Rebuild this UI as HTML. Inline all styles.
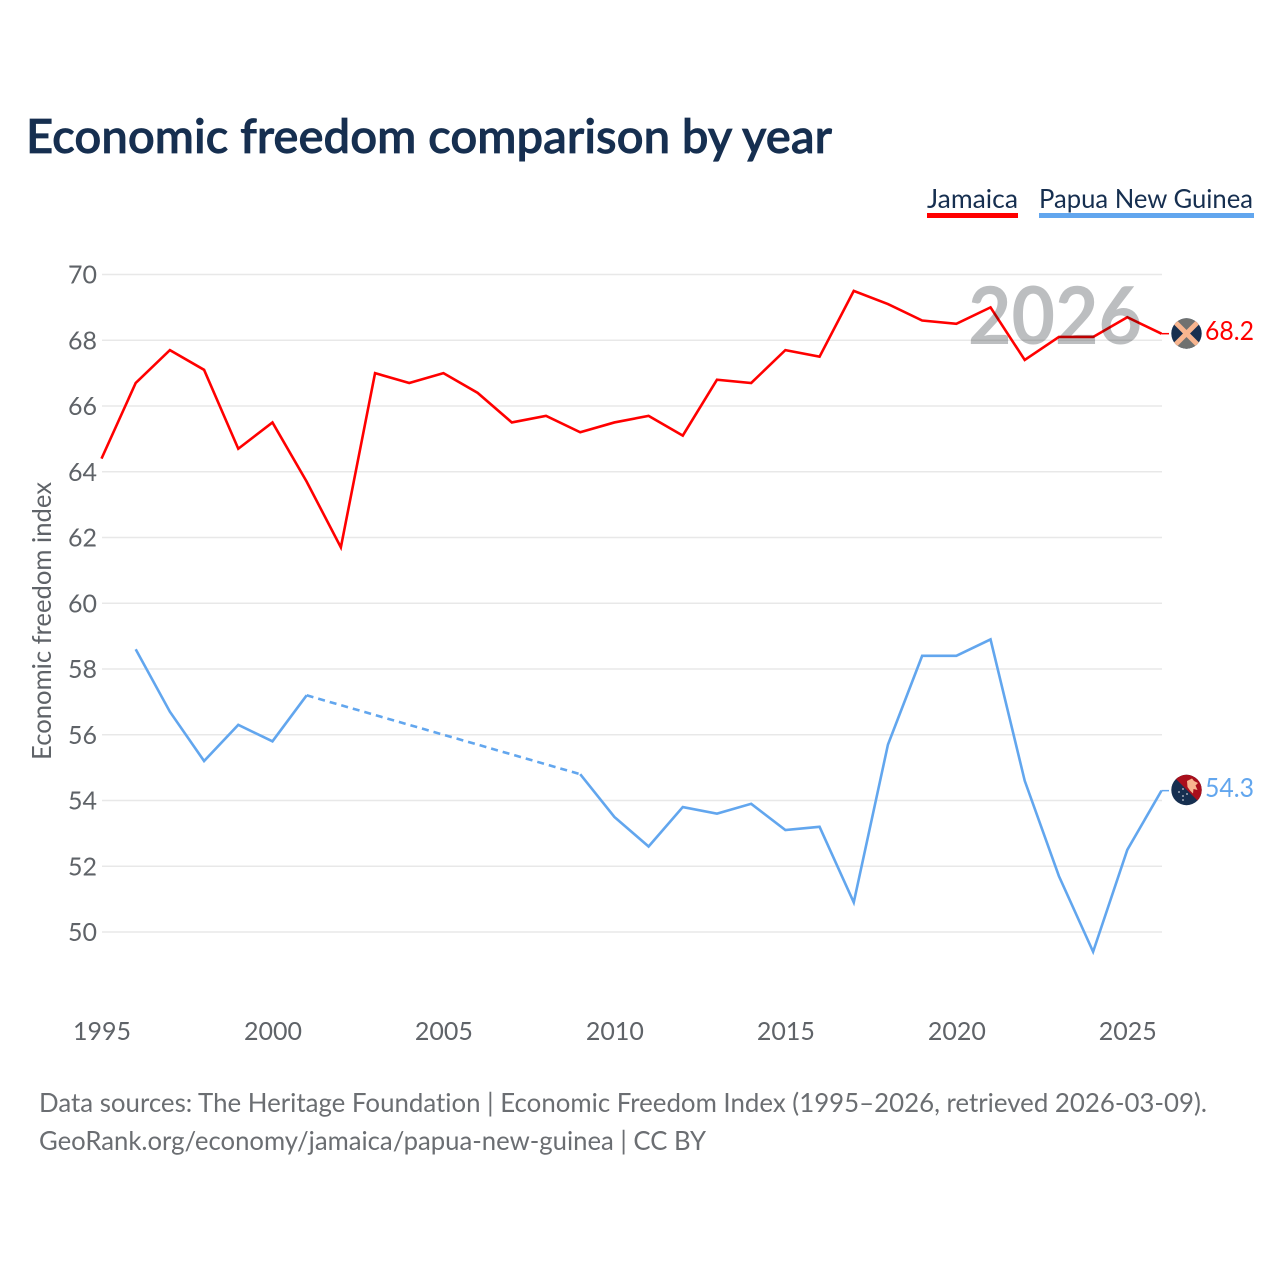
<!DOCTYPE html>
<html lang="en">
<head>
<meta charset="utf-8">
<title>Economic freedom comparison by year</title>
<style>
  html, body { margin: 0; padding: 0; background: #fff; }
  svg { display: block; }
  text { font-family: "Lato", "Liberation Sans", sans-serif; font-variant-ligatures: none; }
</style>
</head>
<body>
<svg id="chart" xmlns="http://www.w3.org/2000/svg" width="1280" height="1280" viewBox="0 0 1280 1280">
  <defs>
    <clipPath id="flag-clip-jm"><circle cx="1186.5" cy="333.5" r="15.2"/></clipPath>
    <clipPath id="flag-clip-pg"><circle cx="1186.5" cy="790" r="15.2"/></clipPath>
  </defs>
  <rect width="1280" height="1280" fill="#ffffff"/>
  <text x="26" y="153" font-size="47" font-weight="600" fill="#162f50" stroke="#162f50" stroke-width="0.7" textLength="806" lengthAdjust="spacingAndGlyphs">Economic freedom comparison by year</text>

  <g>
    <text x="927" y="208" font-size="26" fill="#162f50" textLength="91" lengthAdjust="spacingAndGlyphs">Jamaica</text>
    <rect x="927" y="213" width="91" height="5" fill="#ff0000"/>
  </g>
  <g>
    <text x="1039" y="208" font-size="26" fill="#162f50" textLength="214" lengthAdjust="spacingAndGlyphs">Papua New Guinea</text>
    <rect x="1039" y="213" width="215" height="5" fill="#62a6ee"/>
  </g>

  <g id="grid"></g>
  <g id="yticks"></g>
  <g id="xticks"></g>
  <text transform="translate(51,760) rotate(-90)" font-size="26" fill="#5f6368" textLength="278" lengthAdjust="spacingAndGlyphs">Economic freedom index</text>

  <g id="series"></g>

  <text x="968" y="344" font-size="80" font-weight="700" fill="#bcbec0" textLength="174" lengthAdjust="spacingAndGlyphs" style="mix-blend-mode:multiply">2026</text>

  <g clip-path="url(#flag-clip-jm)">
    <rect x="1171" y="318" width="31" height="31" fill="#162f50"/>
    <polygon points="1171,318 1202,318 1186.5,333.5" fill="#6f7170"/>
    <polygon points="1171,349 1202,349 1186.5,333.5" fill="#6f7170"/>
    <line x1="1171" y1="318" x2="1202" y2="349" stroke="#f7b58f" stroke-width="5"/>
    <line x1="1202" y1="318" x2="1171" y2="349" stroke="#f7b58f" stroke-width="5"/>
  </g>
  <g clip-path="url(#flag-clip-pg)">
    <rect x="1171" y="774" width="32" height="32" fill="#162f50"/>
    <polygon points="1171,774 1203,774 1203,806" fill="#a90f1c"/>
    <polygon points="1187,781 1192,778.5 1194,781 1198,783 1195.5,785.5 1197.5,790 1193.5,789 1193,793.5 1190,790.5 1187.5,787" fill="#f7b58f"/>
    <circle cx="1179" cy="792" r="0.9" fill="#c9ced6"/>
    <circle cx="1183" cy="789" r="0.9" fill="#c9ced6"/>
    <circle cx="1183" cy="796" r="0.9" fill="#c9ced6"/>
    <circle cx="1187" cy="794" r="0.9" fill="#c9ced6"/>
    <circle cx="1183" cy="800" r="0.9" fill="#c9ced6"/>
  </g>

  <text x="1205" y="340" font-size="26" fill="#ff0000" textLength="49" lengthAdjust="spacingAndGlyphs">68.2</text>
  <text x="1205" y="797" font-size="26" fill="#62a6ee" textLength="49" lengthAdjust="spacingAndGlyphs">54.3</text>

  <text x="39" y="1112" font-size="26" fill="#6b6e72" textLength="1168" lengthAdjust="spacingAndGlyphs">Data sources: The Heritage Foundation | Economic Freedom Index (1995–2026, retrieved 2026-03-09).</text>
  <text x="39" y="1150" font-size="26" fill="#6b6e72" textLength="667" lengthAdjust="spacingAndGlyphs">GeoRank.org/economy/jamaica/papua-new-guinea | CC BY</text>
</svg>
<script>
const years = [1995,1996,1997,1998,1999,2000,2001,2002,2003,2004,2005,2006,2007,2008,2009,2010,2011,2012,2013,2014,2015,2016,2017,2018,2019,2020,2021,2022,2023,2024,2025,2026];
const jamaicaValues = [64.4,66.7,67.7,67.1,64.7,65.5,63.7,61.7,67.0,66.7,67.0,66.4,65.5,65.7,65.2,65.5,65.7,65.1,66.8,66.7,67.7,67.5,69.5,69.1,68.6,68.5,69.0,67.4,68.1,68.1,68.7,68.2];
const papuaValues = [null,58.6,56.7,55.2,56.3,55.8,57.2,null,null,null,null,null,null,null,54.8,53.5,52.6,53.8,53.6,53.9,53.1,53.2,50.9,55.7,58.4,58.4,58.9,54.6,51.7,49.4,52.5,54.3];
const yTickLabels = [50,52,54,56,58,60,62,64,66,68,70];
const xTickLabels = [1995,2000,2005,2010,2015,2020,2025];

const NS = 'http://www.w3.org/2000/svg';
function xScale(year) { return 101.5 + (year - 1995) * (1161.5 - 101.5) / (2026 - 1995); }
function yScale(v) { return 932 - (v - 50) * (932 - 274.5) / (70 - 50); }

const grid = document.getElementById('grid');
const yticks = document.getElementById('yticks');
const xticks = document.getElementById('xticks');
const series = document.getElementById('series');

yTickLabels.forEach(function (t) {
  const line = document.createElementNS(NS, 'line');
  
  
  line.setAttribute('x1', 102);
  line.setAttribute('x2', 1162);
  line.setAttribute('y1', yScale(t));
  line.setAttribute('y2', yScale(t));
  line.setAttribute('stroke', '#e8e8e8');
  line.setAttribute('stroke-width', '1.5');
  grid.appendChild(line);

  const label = document.createElementNS(NS, 'text');
  
  
  label.setAttribute('x', 97);
  label.setAttribute('y', yScale(t) + 9);
  label.setAttribute('text-anchor', 'end');
  label.setAttribute('font-size', '25');
  label.setAttribute('fill', '#5f6368');
  label.textContent = t;
  yticks.appendChild(label);
});

xTickLabels.forEach(function (t) {
  const label = document.createElementNS(NS, 'text');
  
  
  label.setAttribute('x', xScale(t) + 0.5);
  label.setAttribute('y', 1040);
  label.setAttribute('text-anchor', 'middle');
  label.setAttribute('font-size', '25');
  label.setAttribute('fill', '#5f6368');
  label.textContent = t;
  xticks.appendChild(label);
});

function toPoints(pairs) {
  return pairs.map(function (p) { return xScale(p[0]).toFixed(2) + ',' + yScale(p[1]).toFixed(2); }).join(' ');
}

function drawSeries(values, color, name) {
  let run = [];
  let previous = null;
  const solidRuns = [];
  const dashedRuns = [];
  values.forEach(function (v, i) {
    if (v === null) {
      if (run.length) { solidRuns.push(run); previous = run[run.length - 1]; run = []; }
      return;
    }
    const pair = [years[i], v];
    if (!run.length && previous) { dashedRuns.push([previous, pair]); }
    run.push(pair);
  });
  if (run.length) { solidRuns.push(run); }

  solidRuns.forEach(function (r) {
    const line = document.createElementNS(NS, 'polyline');
    
    
    line.setAttribute('points', toPoints(r));
    line.setAttribute('fill', 'none');
    line.setAttribute('stroke', color);
    line.setAttribute('stroke-width', '2.6');
    series.appendChild(line);
  });
  dashedRuns.forEach(function (r) {
    const line = document.createElementNS(NS, 'polyline');
    
    
    line.setAttribute('points', toPoints(r));
    line.setAttribute('fill', 'none');
    line.setAttribute('stroke', color);
    line.setAttribute('stroke-width', '2.6');
    line.setAttribute('stroke-dasharray', '7 5');
    series.appendChild(line);
  });

  const last = values[values.length - 1];
  const connector = document.createElementNS(NS, 'line');
  
  
  connector.setAttribute('x1', xScale(years[years.length - 1]));
  connector.setAttribute('x2', 1169);
  connector.setAttribute('y1', yScale(last));
  connector.setAttribute('y2', yScale(last));
  connector.setAttribute('stroke', color);
  connector.setAttribute('stroke-width', '1.5');
  series.appendChild(connector);
}

drawSeries(jamaicaValues, '#ff0000', 'jamaica');
drawSeries(papuaValues, '#62a6ee', 'papua-new-guinea');
</script>
</body>
</html>
